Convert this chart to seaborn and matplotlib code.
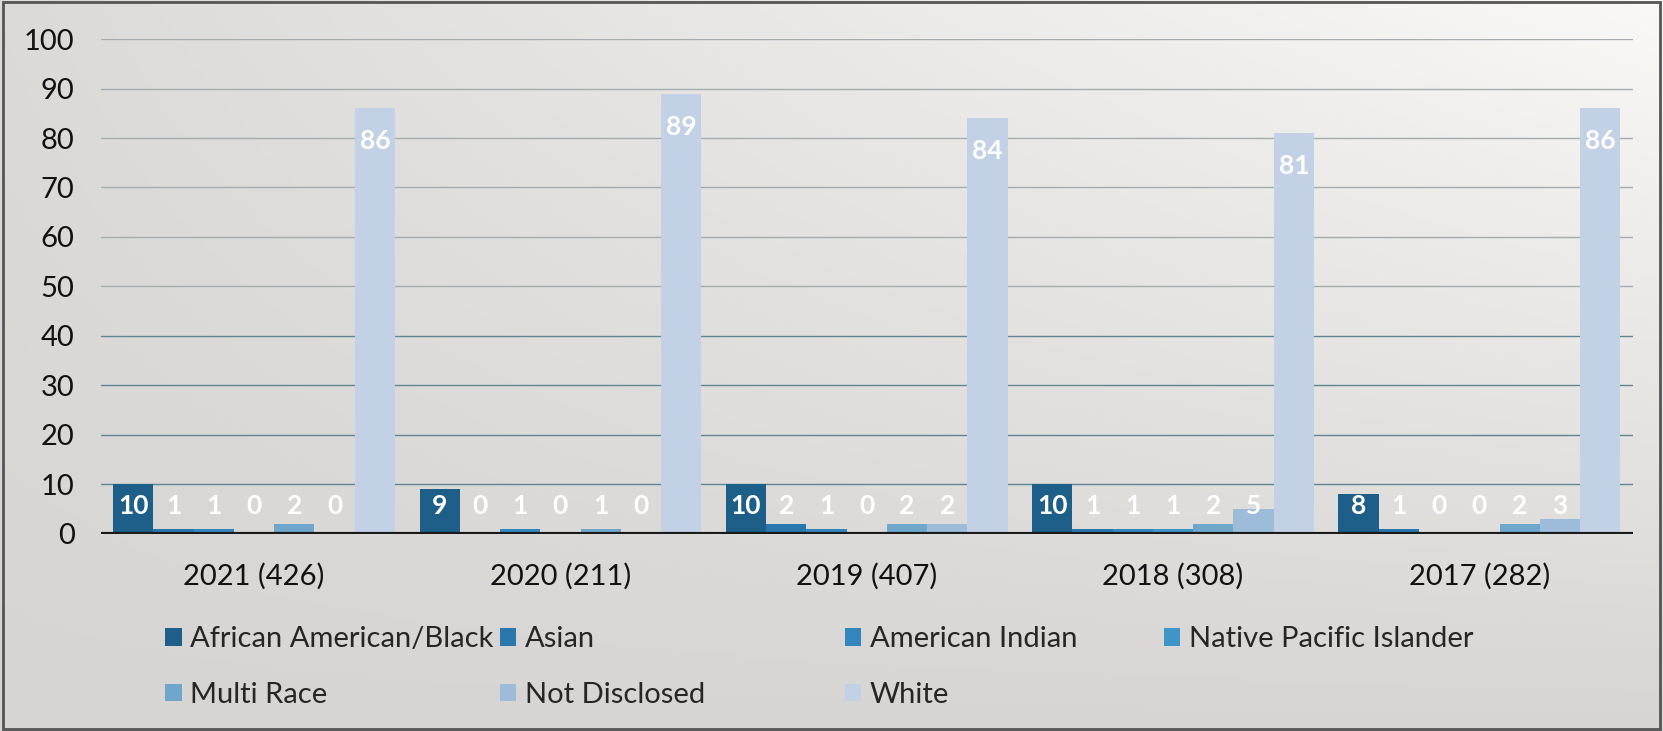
import numpy as np
import pandas as pd
import matplotlib
matplotlib.use("Agg")
import matplotlib.pyplot as plt
import seaborn as sns
from matplotlib.patches import Patch

# Data
years = ["2021 (426)", "2020 (211)", "2019 (407)", "2018 (308)", "2017 (282)"]
groups = ["African American/Black", "Asian", "American Indian",
          "Native Pacific Islander", "Multi Race", "Not Disclosed", "White"]
black = [10, 9, 10, 10, 8]
asian = [1, 0, 2, 1, 1]
am_indian = [1, 1, 1, 1, 0]
pacific = [0, 0, 0, 1, 0]
multi = [2, 1, 2, 2, 2]
not_disclosed = [0, 0, 2, 5, 3]
white = [86, 89, 84, 81, 86]
colors = ["#1d5f88", "#2878ae", "#3286bd", "#3f95c9", "#6ea6cc", "#9dbcd9", "#c3d1e6"]

series = [black, asian, am_indian, pacific, multi, not_disclosed, white]
df = pd.DataFrame({
    "year": np.repeat(years, len(groups)).tolist(),
    "group": groups * len(years),
    "value": [series[g][y] for y in range(len(years)) for g in range(len(groups))],
})

sns.set_theme(style="white")
plt.rcParams["font.family"] = ["Lato", "DejaVu Sans"]

fig = plt.figure(figsize=(16.63, 7.31), dpi=100)

# scanned-paper style background gradient
bg = fig.add_axes([0, 0, 1, 1], zorder=-10)
xx, yy = np.meshgrid(np.linspace(0, 1, 300), np.linspace(0, 1, 150))
shade = 0.84 + 0.12 * xx * (1 - yy) + 0.02 * (1 - yy)
rgb = np.dstack([shade, shade * 0.995, shade * 0.985])
bg.imshow(rgb, aspect="auto", extent=[0, 1, 0, 1])
bg.set_axis_off()
bg.add_patch(plt.Rectangle((0.002, 0.003), 0.996, 0.994, fill=False,
                           edgecolor="#555555", lw=2, transform=bg.transAxes))

ax = fig.add_axes([0.0607, 0.270, 0.921, 0.6765])
ax.set_facecolor("none")

sns.barplot(data=df, x="year", y="value", hue="group", hue_order=groups,
            order=years, palette=colors, width=0.92, gap=0, ax=ax,
            saturation=1, edgecolor="none", legend=False)

ax.set_ylim(0, 100)
ax.set_xlim(-0.5, 4.5)
ax.set_yticks(range(0, 101, 10))
for v in range(10, 101, 10):
    ax.axhline(v, color="#5f8590" if v <= 40 else "#a3adb0", lw=1.0, zorder=0)
ax.axhline(0, color="#1a1a1a", lw=3, zorder=5)
for s in ax.spines.values():
    s.set_visible(False)
ax.set_xlabel("")
ax.set_ylabel("")
ax.tick_params(axis="y", labelsize=21, colors="#111111", length=0, pad=19)
ax.tick_params(axis="x", labelsize=21, colors="#111111", length=0, pad=21)

# value labels
for cont in ax.containers:
    for bar in cont:
        h = bar.get_height()
        xc = bar.get_x() + bar.get_width() / 2
        ax.text(xc, max(h - 6.7, 5.6), f"{int(round(h))}", ha="center", va="center",
                color="white", fontsize=19, fontweight="bold", zorder=6)

# legend laid out in fixed columns like the original
cols = [(0.0995, [0, 4]), (0.3005, [1, 5]), (0.508, [2, 6]), (0.700, [3])]
for xpos, idx in cols:
    handles = [Patch(facecolor=colors[i], edgecolor="none") for i in idx]
    fig.legend(handles, [groups[i] for i in idx], loc="upper left",
               bbox_to_anchor=(xpos, 0.143), frameon=False, fontsize=21,
               handlelength=0.55, handleheight=0.55, handletextpad=0.3,
               labelspacing=1.0, borderaxespad=0, borderpad=0)

fig.savefig("out.png", dpi=100)
